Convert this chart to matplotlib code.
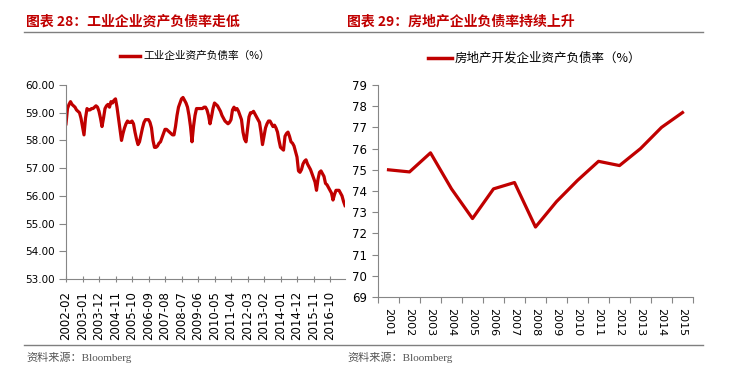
import matplotlib
matplotlib.use("Agg")
import matplotlib.pyplot as plt
from matplotlib.lines import Line2D

plt.rcParams['font.family'] = ['Noto Sans CJK SC', 'DejaVu Sans']

# --- 数据 ---
# 工业企业资产负债率（%），月度，2002-02 起
start_year, start_month = 2002, 2
ind_debt = [
    58.6, 59.15, 59.3, 59.4, 59.3, 59.25, 59.2, 59.1, 59.05, 59.0, 58.8, 58.5,
    58.2, 58.8, 59.15, 59.1, 59.1, 59.15, 59.15, 59.2, 59.25, 59.2, 59.05, 58.8,
    58.5, 58.8, 59.15, 59.25, 59.3, 59.2, 59.4, 59.35, 59.45, 59.5, 59.2, 58.8,
    58.4, 58.0, 58.25, 58.45, 58.6, 58.7, 58.65, 58.65, 58.7, 58.6, 58.3, 58.05,
    57.85, 57.95, 58.2, 58.45, 58.65, 58.75, 58.75, 58.75, 58.65, 58.45, 58.0, 57.75,
    57.75, 57.8, 57.9, 57.95, 58.1, 58.25, 58.4, 58.4, 58.35, 58.3, 58.25, 58.2,
    58.2, 58.5, 58.9, 59.2, 59.35, 59.5, 59.55, 59.45, 59.35, 59.2, 58.9, 58.5,
    57.95, 58.5, 58.9, 59.15, 59.15, 59.15, 59.15, 59.15, 59.2, 59.2, 59.1, 58.9,
    58.6, 58.85, 59.15, 59.35, 59.3, 59.25, 59.15, 59.05, 58.9, 58.8, 58.7, 58.65,
    58.6, 58.65, 58.75, 59.1, 59.2, 59.1, 59.15, 59.05, 58.9, 58.75, 58.3, 58.05,
    57.95, 58.4, 58.85, 59.0, 59.0, 59.05, 58.95, 58.85, 58.75, 58.65, 58.3, 57.85,
    58.15, 58.45, 58.6, 58.7, 58.7, 58.6, 58.5, 58.55, 58.45, 58.3, 58.0, 57.75,
    57.7, 57.65, 58.15, 58.25, 58.3, 58.15, 57.95, 57.9, 57.8, 57.6, 57.4, 56.9,
    56.85, 56.95, 57.15, 57.25, 57.3, 57.15, 57.05, 56.95, 56.8, 56.65, 56.5, 56.2,
    56.6, 56.85, 56.9, 56.8, 56.7, 56.45, 56.4, 56.3, 56.2, 56.1, 55.85, 56.05,
    56.2, 56.2, 56.2, 56.1, 56.0, 55.8, 55.65,
]

# 房地产开发企业资产负债率（%），年度
re_years = [str(y) for y in range(2001, 2016)]
re_debt = [75.0, 74.9, 75.8, 74.1, 72.7, 74.1, 74.4, 72.3, 73.5, 74.5,
           75.4, 75.2, 76.0, 77.0, 77.7]

left_ticks = list(range(0, 177, 11))
left_labels = []
for m in left_ticks:
    idx = start_month - 1 + m
    left_labels.append(f"{start_year + idx // 12}-{idx % 12 + 1:02d}")

RED = '#C00000'
AXIS = '#868686'
TXT = '#000000'

W, H = 736, 374
fig = plt.figure(figsize=(W / 100, H / 100), dpi=100)


def fx(px):
    return px / W


def fy(py):
    return 1 - py / H


# --- 标题、分隔线、来源 ---
fig.text(fx(26), fy(22), "图表 28：工业企业资产负债率走低", color=RED,
         fontsize=10, fontweight='bold', va='center', ha='left')
fig.text(fx(347), fy(22), "图表 29：房地产企业负债率持续上升", color=RED,
         fontsize=10, fontweight='bold', va='center', ha='left')
for y in (32, 345):
    fig.add_artist(Line2D([fx(24), fx(703)], [fy(y), fy(y)], color='#7f7f7f', lw=1))
for x in (26, 347):
    fig.text(fx(x), fy(357), "资料来源：Bloomberg", color='#555555', fontsize=8,
             family=['Liberation Serif', 'Noto Sans CJK SC'], va='center', ha='left')

# --- 左图 ---
ax1 = fig.add_axes([fx(66), fy(279), fx(345 - 66), (279 - 85) / H])
ax1.plot(range(len(ind_debt)), ind_debt, color=RED, lw=2.3, solid_joinstyle='round')
ax1.set_xlim(0, len(ind_debt) - 1)
ax1.set_ylim(53, 60)
ax1.set_yticks([53 + i for i in range(8)])
ax1.set_yticklabels([f"{53 + i:.2f}" for i in range(8)], family=['DejaVu Sans'], fontsize=7.5)
ax1.set_xticks(left_ticks)
ax1.set_xticklabels(left_labels, rotation=90, family=['DejaVu Sans'], fontsize=8.5)
ax1.tick_params(axis='y', direction='out', length=5, width=0.8, color=AXIS, pad=3)
ax1.tick_params(axis='x', direction='inout', length=5, width=0.8, color=AXIS, pad=6)

fig.add_artist(Line2D([fx(120), fx(140)], [fy(56), fy(56)], color=RED, lw=2.5))
fig.text(fx(143), fy(56), "工业企业资产负债率（%）", fontsize=7.7, va='center', ha='left')

# --- 右图 ---
ax2 = fig.add_axes([fx(378), fy(297), fx(693 - 378), (297 - 85) / H])
xs = list(range(len(re_years)))
ax2.plot(xs, re_debt, color=RED, lw=2.3, solid_joinstyle='round')
ax2.set_xlim(-0.5, len(re_years) - 0.5)
ax2.set_ylim(69, 79)
ax2.set_yticks(range(69, 80))
ax2.set_yticklabels([str(v) for v in range(69, 80)], family=['DejaVu Sans'], fontsize=8.5)
ax2.set_xticks(xs)
ax2.set_xticklabels(re_years, rotation=270, family=['DejaVu Sans'], fontsize=8)
ax2.set_xticks([x - 0.5 for x in range(len(re_years) + 1)], minor=True)
ax2.tick_params(axis='x', which='major', length=0, pad=8)
ax2.tick_params(axis='x', which='minor', direction='out', length=4, width=0.8, color=AXIS)
ax2.tick_params(axis='y', direction='out', length=4, width=0.8, color=AXIS, pad=4)

fig.add_artist(Line2D([fx(428), fx(452)], [fy(58), fy(58)], color=RED, lw=2.5))
fig.text(fx(455), fy(58), "房地产开发企业资产负债率（%）", fontsize=9, va='center', ha='left')

for ax in (ax1, ax2):
    for s in ('top', 'right'):
        ax.spines[s].set_visible(False)
    for s in ('left', 'bottom'):
        ax.spines[s].set_color(AXIS)
        ax.spines[s].set_linewidth(0.8)
    ax.tick_params(labelcolor=TXT)
    ax.set_facecolor('none')

fig.savefig("out.png", dpi=100)
